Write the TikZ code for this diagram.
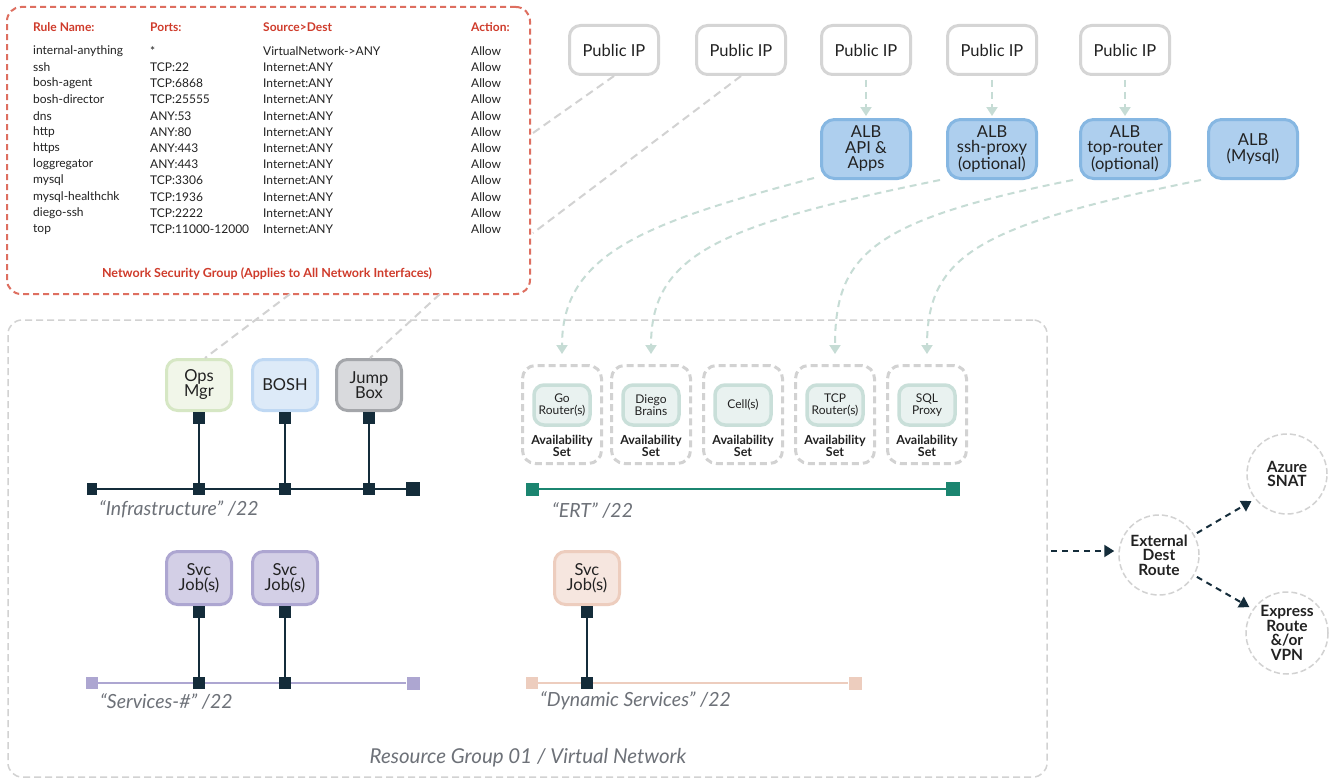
\documentclass[tikz,border=0pt]{standalone}
\usepackage{fontspec}
\setmainfont{Lato}
\usetikzlibrary{arrows.meta,positioning,calc}

\definecolor{nsgred}{HTML}{CF3B2B}
\definecolor{nsgline}{HTML}{DE6F60}
\definecolor{boxgray}{HTML}{D5D5D5}
\definecolor{framegray}{HTML}{D2D2D2}
\definecolor{albfill}{HTML}{AECFEE}
\definecolor{albdraw}{HTML}{86B7E2}
\definecolor{feedgreen}{HTML}{C6DCD5}
\definecolor{darknet}{HTML}{142C3A}
\definecolor{ertgreen}{HTML}{1B8570}
\definecolor{svcfill}{HTML}{D3CFE6}
\definecolor{svcdraw}{HTML}{ADA6D1}
\definecolor{dynfill}{HTML}{F6E6DF}
\definecolor{dyndraw}{HTML}{EDCDBE}
\definecolor{opsfill}{HTML}{F1F6E9}
\definecolor{opsdraw}{HTML}{D6E7C4}
\definecolor{boshfill}{HTML}{DDEAF8}
\definecolor{boshdraw}{HTML}{BFD8F3}
\definecolor{jumpfill}{HTML}{D9DADD}
\definecolor{jumpdraw}{HTML}{A4A6AA}
\definecolor{ertfill}{HTML}{E9F2F0}
\definecolor{ertdraw}{HTML}{C9DFD9}
\definecolor{labelgray}{HTML}{6D7178}
\definecolor{textdark}{HTML}{222222}

\tikzset{
  box/.style={rounded corners=11pt, line width=3pt, align=center, inner sep=0pt, text=textdark},
  pubip/.style={box, draw=boxgray, fill=white, minimum width=89pt, minimum height=49pt,
    font=\fontsize{16.5}{16}\selectfont},
  alb/.style={box, rounded corners=13pt, draw=albdraw, fill=albfill, minimum width=89pt,
    minimum height=59pt, font=\fontsize{16.5}{15.5}\selectfont},
  vm/.style={box, minimum width=65pt, minimum height=51pt, font=\fontsize{16.5}{15}\selectfont},
  svc/.style={vm, minimum height=53pt, draw=svcdraw, fill=svcfill},
  ert/.style={box, rounded corners=10pt, line width=3.5pt, draw=ertdraw, fill=ertfill,
    minimum width=56pt, minimum height=40pt, font=\fontsize{12}{12}\selectfont},
  avset/.style={draw=framegray, line width=3pt, dash pattern=on 7pt off 4pt,
    rounded corners=13pt, minimum width=79pt, minimum height=98pt, inner sep=0pt},
  avtext/.style={font=\bfseries\fontsize{12.5}{12}\selectfont, align=center, text=textdark},
  hdr/.style={anchor=west, inner sep=0pt, text=nsgred, font=\bfseries\fontsize{12}{12}\selectfont},
  cell/.style={anchor=west, inner sep=0pt, text=textdark, font=\fontsize{12}{12}\selectfont},
  nsg/.style={draw=nsgline, line width=2pt, dash pattern=on 6pt off 4pt, rounded corners=14pt},
  netlabel/.style={anchor=west, inner sep=0pt, text=labelgray,
    font=\itshape\fontsize{19.5}{19}\selectfont},
  sq/.style={fill=darknet, minimum size=12pt, inner sep=0pt},
  bus/.style={line width=2.5pt},
  feed/.style={draw=feedgreen, line width=2pt, dash pattern=on 7pt off 5pt,
    -{Triangle[width=11pt,length=9pt]}, shorten >=2pt},
  ipline/.style={draw=framegray, line width=2pt, dash pattern=on 8pt off 5pt},
  route/.style={draw=framegray, line width=1.5pt, dash pattern=on 6pt off 3pt, circle,
    minimum size=80pt, inner sep=0pt, align=center, text=textdark,
    font=\bfseries\fontsize{15.5}{14.5}\selectfont},
  outflow/.style={draw=darknet, line width=2pt, dash pattern=on 6pt off 5pt,
    -{Triangle[width=12pt,length=10pt]}}
}

\begin{document}
\begin{tikzpicture}[x=1pt,y=-1pt]
  \useasboundingbox[fill=white] (0,0) rectangle (1334,784);

  % resource group frame
  \node[draw=framegray, line width=1.5pt, dash pattern=on 7pt off 4pt, rounded corners=14pt,
    minimum width=1039pt, minimum height=457pt, inner sep=0pt] (rg) at (527.5,548.5) {};
  \node[text=labelgray, font=\itshape\fontsize{20.5}{20}\selectfont] (rg-label) at (528,758)
    {Resource Group 01 / Virtual Network};

  % network security group
  \node[nsg, minimum width=523pt, minimum height=287pt] (nsg) at (268.5,150.5) {};
  \foreach \col/\hd/\x in {rn/Rule Name:/33, pt/Ports:/150, sd/Source>Dest/263, ac/Action:/471}
    \node[hdr] (h-\col) at (\x,27) {\hd};
  \foreach \rule/\port/\src [count=\i] in {internal-anything/*/VirtualNetwork->ANY,
      ssh/TCP:22/Internet:ANY, bosh-agent/TCP:6868/Internet:ANY,
      bosh-director/TCP:25555/Internet:ANY, dns/ANY:53/Internet:ANY,
      http/ANY:80/Internet:ANY, https/ANY:443/Internet:ANY,
      loggregator/ANY:443/Internet:ANY, mysql/TCP:3306/Internet:ANY,
      mysql-healthchk/TCP:1936/Internet:ANY, diego-ssh/TCP:2222/Internet:ANY,
      top/TCP:11000-12000/Internet:ANY}
  {
    \node[cell] (rn\i) at (33,{51+16.2*(\i-1)}) {\rule};
    \node[cell] (pt\i) at (150,{51+16.2*(\i-1)}) {\port};
    \node[cell] (sd\i) at (263,{51+16.2*(\i-1)}) {\src};
    \node[cell] (ac\i) at (471,{51+16.2*(\i-1)}) {Allow};
  }
  \node[text=nsgred, font=\bfseries\fontsize{12.5}{12}\selectfont] (nsg-foot) at (267,274)
    {Network Security Group (Applies to All Network Interfaces)};

  % public ips and load balancers
  \foreach \n/\x in {1/614,2/741,3/866,4/992,5/1125}
    \node[pubip] (ip\n) at (\x,50) {Public IP};
  \node[alb] (alb1) at (866,149) {ALB\\API \&\\Apps};
  \node[alb] (alb2) at (992,149) {ALB\\ssh-proxy\\(optional)};
  \node[alb] (alb3) at (1125,149) {ALB\\top-router\\(optional)};
  \node[alb] (alb4) at (1253,149) {ALB\\(Mysql)};
  \foreach \a/\b in {3/1,4/2,5/3}
    \draw[feed, shorten <=4pt] (ip\a) -- (alb\b);

  \coordinate (nsg-a) at (533,133);
  \coordinate (nsg-b) at (533,233);
  \coordinate (nsg-c) at (290,294);
  \coordinate (nsg-d) at (440,294);
  \draw[ipline] (ip1.south) -- (nsg-a);
  \draw[ipline] (ip2.south) -- (nsg-b);

  % infrastructure network
  \node[vm, draw=opsdraw, fill=opsfill] (ops) at (199,385) {Ops\\Mgr};
  \node[vm, draw=boshdraw, fill=boshfill] (bosh) at (285,385) {BOSH};
  \node[vm, draw=jumpdraw, fill=jumpfill] (jump) at (369,385) {Jump\\Box};
  \draw[ipline] (nsg-c) -- (ops.north west -| 205,358);
  \draw[ipline] (nsg-d) -- (jump.north west -| 370,358);

  \node[sq, minimum width=10pt] (inf-l) at (92,489) {};
  \node[sq, minimum size=14pt] (inf-r) at (413,489) {};
  \draw[darknet, bus] (inf-l) -- (inf-r);
  \foreach \v in {ops,bosh,jump} {
    \node[sq, below=0pt of \v] (\v-p) {};
    \node[sq] (\v-j) at (\v.center |- inf-l) {};
    \draw[darknet, line width=2pt] (\v-p) -- (\v-j);
  }
  \node[netlabel] (inf-label) at (99,509) {“Infrastructure” /22};

  % ert network
  \foreach \s/\x/\txt in {go/562/Go\\Router(s), brain/651/Diego\\Brains, cell/743/Cell(s),
      tcp/835/TCP\\Router(s), sql/927/SQL\\Proxy}
  {
    \node[avset] (\s-set) at (\x,414.5) {};
    \node[ert] (\s) at (\x,405) {\txt};
    \node[avtext] (\s-av) at (\x,446) {Availability\\Set};
  }
  \node[fill=ertgreen, minimum size=13pt, inner sep=0pt] (ert-l) at (532,489) {};
  \node[fill=ertgreen, minimum size=14pt, inner sep=0pt] (ert-r) at (953,489) {};
  \draw[ertgreen, bus] (ert-l) -- (ert-r);
  \node[netlabel] (ert-label) at (552,510) {“ERT” /22};

  % load balancer feeds
  \draw[feed, shorten >=10pt] (alb1.south west) ++(-6,-2) coordinate (f1)
    (f1) .. controls +(-170,45) and +(0,-110) .. (go-set.north);
  \draw[feed, shorten >=10pt] (alb2.south west) ++(-6,0) coordinate (f2)
    (f2) .. controls +(-220,45) and +(0,-110) .. (brain-set.north);
  \draw[feed, shorten >=10pt] (alb3.south west) ++(-6,0) coordinate (f3)
    (f3) .. controls +(-200,40) and +(0,-110) .. (tcp-set.north);
  \draw[feed, shorten >=10pt] (alb4.south west) ++(-6,0) coordinate (f4)
    (f4) .. controls +(-220,45) and +(0,-110) .. (sql-set.north);

  % services network
  \node[svc] (svc1) at (199,578) {Svc\\Job(s)};
  \node[svc] (svc2) at (285,578) {Svc\\Job(s)};
  \node[fill=svcdraw, minimum size=12pt, inner sep=0pt] (svc-l) at (92,683) {};
  \node[fill=svcdraw, minimum size=13pt, inner sep=0pt] (svc-r) at (413,683) {};
  \draw[svcdraw, bus] (svc-l) -- (svc-r);
  \foreach \v in {svc1,svc2} {
    \node[sq, below=0pt of \v] (\v-p) {};
    \node[sq] (\v-j) at (\v.center |- svc-l) {};
    \draw[darknet, line width=2pt] (\v-p) -- (\v-j);
  }
  \node[netlabel] (svc-label) at (100,701) {“Services-\#” /22};

  % dynamic services network
  \node[svc, draw=dyndraw, fill=dynfill] (dyn) at (587,578) {Svc\\Job(s)};
  \node[fill=dyndraw, minimum size=12pt, inner sep=0pt] (dyn-l) at (532,683) {};
  \node[fill=dyndraw, minimum size=13pt, inner sep=0pt] (dyn-r) at (855,683) {};
  \draw[dyndraw, bus] (dyn-l) -- (dyn-r);
  \node[sq, below=0pt of dyn] (dyn-p) {};
  \node[sq] (dyn-j) at (dyn.center |- dyn-l) {};
  \draw[darknet, line width=2pt] (dyn-p) -- (dyn-j);
  \node[netlabel] (dyn-label) at (540,701) {“Dynamic Services” /22};

  % external routes
  \node[route] (ext) at (1159,555) {External\\Dest\\Route};
  \node[route] (snat) at (1287,474) {Azure\\SNAT};
  \node[route, minimum size=82pt] (express) at (1287,633) {Express\\Route\\\&/or\\VPN};
  \coordinate (rg-out) at (1051,551);
  \draw[outflow, shorten >=4pt] (rg-out) -- (ext.west |- rg-out);
  \draw[outflow, shorten <=3pt, shorten >=4pt] (ext.30) -- (snat.218);
  \draw[outflow, shorten <=3pt, shorten >=4pt] (ext.-30) -- (express.145);
\end{tikzpicture}
\end{document}
